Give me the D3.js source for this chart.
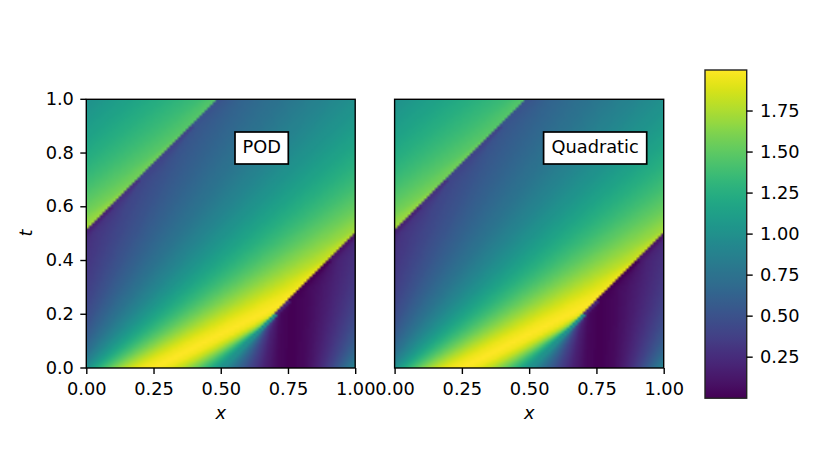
<!DOCTYPE html>
<html><head><meta charset="utf-8">
<script src="https://cdn.jsdelivr.net/npm/d3@7"></script>
<style>html,body{margin:0;padding:0;background:#fff}svg{display:block}text{font-family:"DejaVu Sans";fill:#000}</style>
</head><body><div id="chart"></div>
<script>
// Rows of the space-time field (t)
const timeRows = [0, .05, .1, .15, .2, .25, .3, .4, .5, .6, .7, .8, .9, 1];
// Field levels read on either side of the travelling mid-line
const levelsAbove = [1, 1.125, 1.249, 1.368, 1.482, 1.588, 1.707, 1.809, 1.891, 1.951, 2, 1.951, 1.809, 1.588, 1.368, 1.187, 1];
const levelsBelow = [1, .875, .751, .632, .518, .412, .293, .191, .109, .049, 0, .049, .191, .412, .632, .813, 1];
// Distance from the mid-line at which each level sits, one list per time row
const podOffsets = [
 [0,.02,.04,.06,.08,.1,.125,.15,.175,.2,.25,.3,.35,.4,.44,.47,.5],
 [0,.026,.052,.078,.104,.129,.16,.19,.22,.248,.3,.348,.39,.429,.458,.479,.5],
 [0,.033,.065,.097,.128,.159,.196,.231,.264,.295,.35,.395,.431,.459,.477,.489,.5],
 [0,.039,.077,.115,.152,.188,.231,.271,.309,.343,.4,.443,.471,.488,.495,.498,.5],
 [0,.045,.09,.134,.176,.218,.266,.312,.353,.39,.45,.49,.5,.5,.5,.5,.5],
 [0,.051,.102,.152,.2,.247,.302,.352,.398,.438,.5,.5,.5,.5,.5,.5,.5],
 [0,.058,.115,.17,.225,.276,.337,.393,.442,.485,.5,.5,.5,.5,.5,.5,.5],
 [0,.07,.139,.207,.273,.335,.408,.474,.5,.5,.5,.5,.5,.5,.5,.5,.5],
 [0,.083,.164,.244,.321,.394,.479,.5,.5,.5,.5,.5,.5,.5,.5,.5,.5],
 [0,.095,.189,.281,.369,.453,.5,.5,.5,.5,.5,.5,.5,.5,.5,.5,.5],
 [0,.108,.214,.318,.417,.5,.5,.5,.5,.5,.5,.5,.5,.5,.5,.5,.5],
 [0,.12,.239,.355,.465,.5,.5,.5,.5,.5,.5,.5,.5,.5,.5,.5,.5],
 [0,.133,.264,.391,.5,.5,.5,.5,.5,.5,.5,.5,.5,.5,.5,.5,.5],
 [0,.145,.289,.428,.5,.5,.5,.5,.5,.5,.5,.5,.5,.5,.5,.5,.5]
];
const quadraticOffsets = podOffsets;
const xTicks = [0, .25, .5, .75, 1];
const tTicks = [0, .2, .4, .6, .8, 1];
const colorTicks = [.25, .5, .75, 1, 1.25, 1.5, 1.75];
const colorRange = [0, 2];
const panelNames = ["POD", "Quadratic"];
const wavePeriod = 1.01, lowerFront = .495, upperFront = -.515;

const W = 830, H = 468, fs = 17.8, lw = 1.4, tick = 6;
const svg = d3.select("#chart").append("svg").attr("width", W).attr("height", H);
const color = d3.scaleSequential(d3.interpolateViridis).domain(colorRange);

function fieldValue(table, x, t) {
  const j = Math.min(d3.bisectRight(timeRows, t) - 1, timeRows.length - 2);
  const f = (t - timeRows[j]) / (timeRows[j + 1] - timeRows[j]);
  const stops = table[j].map((a, i) => a + (table[j + 1][i] - a) * f);
  let d = x - t;
  if (d > lowerFront) d -= wavePeriod;
  if (d < upperFront) d += wavePeriod;
  const levels = d >= 0 ? levelsAbove : levelsBelow;
  const a = Math.min(Math.abs(d), .5);
  const k = d3.bisectLeft(stops, a);
  if (k === 0) return levels[0];
  const span = stops[k] - stops[k - 1];
  return span > 0 ? levels[k - 1] + (levels[k] - levels[k - 1]) * (a - stops[k - 1]) / span : levels[k - 1];
}

function styleAxis(g) {
  g.select(".domain").remove();
  g.selectAll("line").attr("stroke", "#000").attr("stroke-width", lw);
  g.selectAll("text").attr("font-size", fs).attr("font-family", "DejaVu Sans").attr("fill", "#000");
}

function panel(left, right, top, bottom, table, name, box, showY) {
  const xs = d3.scaleLinear().domain([0, 1]).range([left, right]);
  const ts = d3.scaleLinear().domain([0, 1]).range([bottom, top]);
  const n = 100;
  const cv = document.createElement("canvas"); cv.width = n; cv.height = n;
  const ctx = cv.getContext("2d");
  const cellX = d3.scaleLinear().domain([0, n]).range([0, 1]);
  const cellT = d3.scaleLinear().domain([0, n]).range([1, 0]);
  for (let r = 0; r < n; r++) for (let c = 0; c < n; c++) {
    ctx.fillStyle = color(fieldValue(table, cellX(c + .5), cellT(r + .5)));
    ctx.fillRect(c, r, 1, 1);
  }
  svg.append("image").attr("href", cv.toDataURL()).attr("x", left).attr("y", top)
    .attr("width", right - left).attr("height", bottom - top).attr("preserveAspectRatio", "none");
  svg.append("g").attr("transform", `translate(0,${bottom})`)
    .call(d3.axisBottom(xs).tickValues(xTicks).tickFormat(d3.format(".2f")).tickSize(tick).tickPadding(8.4).tickSizeOuter(0))
    .call(styleAxis);
  if (showY) {
    svg.append("g").attr("transform", `translate(${left},-0.5)`)
      .call(d3.axisLeft(ts).tickValues(tTicks).tickFormat(d3.format(".1f")).tickSize(tick).tickPadding(6.4).tickSizeOuter(0))
      .call(styleAxis);
  }
  svg.append("rect").attr("x", left).attr("y", top).attr("width", right - left).attr("height", bottom - top)
    .attr("fill", "none").attr("stroke", "#000").attr("stroke-width", lw);
  svg.append("text").attr("x", (left + right) / 2).attr("y", 419).attr("text-anchor", "middle")
    .attr("font-size", fs).attr("font-style", "italic").text("x");
  svg.append("rect").attr("x", box[0]).attr("y", 132).attr("width", box[1] - box[0]).attr("height", 32)
    .attr("fill", "#fff").attr("stroke", "#000").attr("stroke-width", 1.7);
  svg.append("text").attr("x", (box[0] + box[1]) / 2).attr("y", 153).attr("text-anchor", "middle")
    .attr("font-size", fs).text(name);
}

panel(86.3, 355.2, 99.3, 368, podOffsets, panelNames[0], [235, 288.3], true);
panel(394.6, 663.7, 99.3, 368, quadraticOffsets, panelNames[1], [543.6, 646.7], false);
svg.append("text").attr("transform", "translate(32,233) rotate(-90)").attr("text-anchor", "middle")
  .attr("font-size", fs).attr("font-style", "italic").text("t");

// Colour bar
const cy = d3.scaleLinear().domain(colorRange).range([398.2, 70]);
const grad = svg.append("defs").append("linearGradient").attr("id", "cbar")
  .attr("x1", 0).attr("x2", 0).attr("y1", 1).attr("y2", 0);
d3.range(0, 1.0001, .02).forEach(p => grad.append("stop").attr("offset", p).attr("stop-color", d3.interpolateViridis(p)));
svg.append("rect").attr("x", 705).attr("y", 70).attr("width", 41.7).attr("height", 328.2).attr("fill", "url(#cbar)")
  .attr("stroke", "#222").attr("stroke-width", lw);
svg.append("g").attr("transform", "translate(746.7,-0.5)")
  .call(d3.axisRight(cy).tickValues(colorTicks).tickFormat(d3.format(".2f")).tickSize(tick).tickPadding(7.3).tickSizeOuter(0))
  .call(styleAxis);
</script></body></html>
